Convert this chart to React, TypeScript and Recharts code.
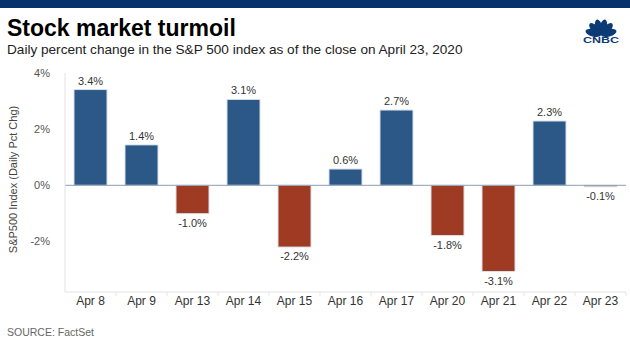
import { BarChart, Bar, XAxis, YAxis, Cell, ReferenceLine, LabelList } from 'recharts'

const categories = ['Apr 8', 'Apr 9', 'Apr 13', 'Apr 14', 'Apr 15', 'Apr 16', 'Apr 17', 'Apr 20', 'Apr 21', 'Apr 22', 'Apr 23']
const pctChange = [3.41, 1.44, -1.01, 3.06, -2.2, 0.58, 2.68, -1.79, -3.07, 2.29, -0.05]
const yTicks = [-2, 0, 2, 4]

const UP = '#2b5887'
const DOWN = '#9e3b22'
const FONT = '"Liberation Sans", Arial, Helvetica, sans-serif'

const data = categories.map((day, i) => ({ day, value: pctChange[i] }))

const XTick = ({ x, y, payload }: any) => {
  const half = 25.5
  return (
    <g>
      <line x1={x + half} x2={x + half} y1={y - 8} y2={y - 4} stroke="#e6e6e6" />
      <text x={x} y={y + 5} textAnchor="middle" fontSize={12} fill="#333" fontFamily={FONT}>
        {payload.value}
      </text>
    </g>
  )
}

const ValueLabel = ({ x, y, width, height, value }: any) => {
  const top = Math.min(y, y + height)
  const bottom = Math.max(y, y + height)
  const ty = value < 0 ? bottom + 13 : top - 5
  return (
    <text x={x + width / 2} y={ty} textAnchor="middle" fontSize={11} fill="#333" fontFamily={FONT}>
      {value.toFixed(1)}%
    </text>
  )
}

const YLabel = ({ viewBox }: any) => {
  const cy = viewBox.y + viewBox.height / 2 - 3
  return (
    <text x={17} y={cy} transform={`rotate(-90, 17, ${cy})`} textAnchor="middle" fontSize={11} fill="#444" fontFamily={FONT}>
      S&amp;P500 Index (Daily Pct Chg)
    </text>
  )
}

function Logo() {
  const angles = [-75, -45, -15, 15, 45, 75]
  return (
    <svg width={42} height={40} style={{ position: 'absolute', left: 580, top: 12 }}>
      {angles.map((a) => (
        <ellipse key={a} cx={21} cy={15} rx={3.6} ry={8} fill="#0b3a75" transform={`rotate(${a}, 21, 23)`} />
      ))}
      <text x={3} y={31} fontSize={9} fontWeight={900} fill="#0b3a75" fontFamily={FONT} textLength={36} lengthAdjust="spacingAndGlyphs">
        CNBC
      </text>
    </svg>
  )
}

export default function App() {
  return (
    <div style={{ position: 'absolute', left: 0, top: 0, width: 630, height: 354, background: '#fff', overflow: 'hidden', fontFamily: FONT }}>
      <div style={{ position: 'absolute', left: 0, top: 0, width: 630, height: 8, background: '#06316a' }} />
      <div style={{ position: 'absolute', left: 7, top: 14, fontSize: 23, fontWeight: 700, color: '#000', lineHeight: '28px' }}>
        Stock market turmoil
      </div>
      <div style={{ position: 'absolute', left: 7, top: 41, fontSize: 13.6, color: '#222', lineHeight: '18px' }}>
        Daily percent change in the S&amp;P 500 index as of the close on April 23, 2020
      </div>
      <Logo />
      <div style={{ position: 'absolute', left: 0, top: 0 }}>
        <BarChart width={630} height={354} data={data} margin={{ top: 73, right: 4, bottom: 32, left: 0 }} barSize={33}>
          <XAxis dataKey="day" tick={<XTick />} tickLine={false} axisLine={{ stroke: '#e3e3e3' }} height={30} interval={0} />
          <YAxis
            domain={[-3.8, 4]}
            ticks={yTicks}
            tickFormatter={(v: number) => `${v}%`}
            tick={{ fontSize: 11, fill: '#555', fontFamily: FONT }}
            tickLine={false}
            tickSize={0}
            tickMargin={15}
            axisLine={{ stroke: '#e3e3e3' }}
            width={65}
            label={<YLabel />}
          />
          <ReferenceLine y={0} stroke="#8c9db2" />
          <Bar dataKey="value" isAnimationActive={false} stroke="#d8e0ea" strokeWidth={1}>
            {data.map((d) => (
              <Cell key={d.day} fill={d.value >= 0 ? UP : DOWN} />
            ))}
            <LabelList dataKey="value" content={<ValueLabel />} />
          </Bar>
        </BarChart>
      </div>
      <div style={{ position: 'absolute', left: 7, top: 326, fontSize: 10.5, color: '#666' }}>SOURCE: FactSet</div>
    </div>
  )
}
